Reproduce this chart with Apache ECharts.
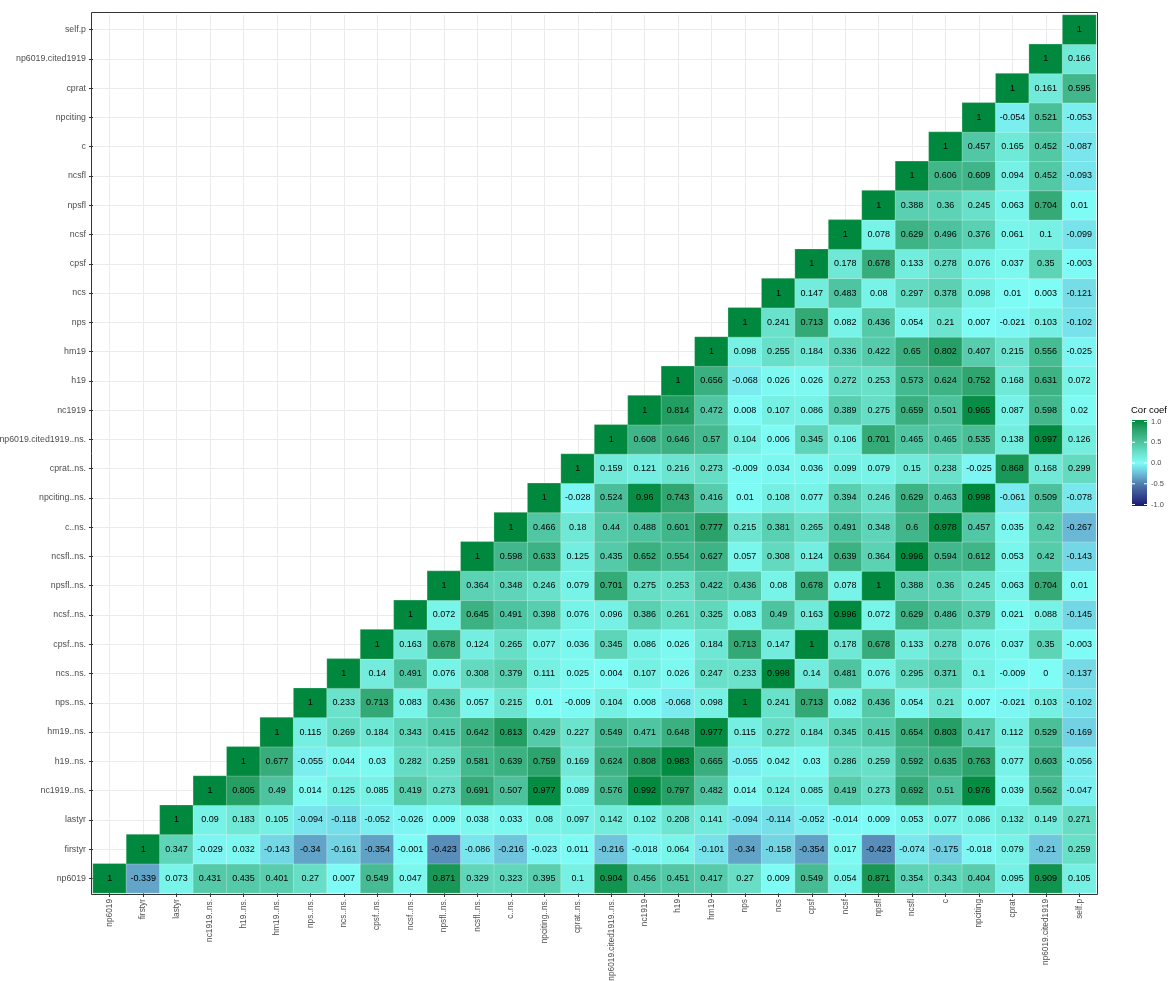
<!DOCTYPE html>
<html>
<head>
<meta charset="utf-8">
<script src="https://cdn.jsdelivr.net/npm/echarts@6/dist/echarts.min.js"></script>
<style>html,body{margin:0;padding:0;background:#fff}#c{width:1168px;height:981px}</style>
</head>
<body>
<div id="c"></div>
<script>
// Variable names (x categories left->right, y categories bottom->top)
const variables = ["np6019","firstyr","lastyr","nc1919..ns.","h19..ns.","hm19..ns.","nps..ns.","ncs..ns.","cpsf..ns.","ncsf..ns.","npsfl..ns.","ncsfl..ns.","c..ns.","npciting..ns.","cprat..ns.","np6019.cited1919..ns.","nc1919","h19","hm19","nps","ncs","cpsf","ncsf","npsfl","ncsfl","c","npciting","cprat","np6019.cited1919","self.p"];

// Upper-triangle rows: upperRows[i] = correlations of variables[i] with variables[i..29]
const upperRows = [
 [1,-0.339,0.073,0.431,0.435,0.401,0.27,0.007,0.549,0.047,0.871,0.329,0.323,0.395,0.1,0.904,0.456,0.451,0.417,0.27,0.009,0.549,0.054,0.871,0.354,0.343,0.404,0.095,0.909,0.105],
 [1,0.347,-0.029,0.032,-0.143,-0.34,-0.161,-0.354,-0.001,-0.423,-0.086,-0.216,-0.023,0.011,-0.216,-0.018,0.064,-0.101,-0.34,-0.158,-0.354,0.017,-0.423,-0.074,-0.175,-0.018,0.079,-0.21,0.259],
 [1,0.09,0.183,0.105,-0.094,-0.118,-0.052,-0.026,0.009,0.038,0.033,0.08,0.097,0.142,0.102,0.208,0.141,-0.094,-0.114,-0.052,-0.014,0.009,0.053,0.077,0.086,0.132,0.149,0.271],
 [1,0.805,0.49,0.014,0.125,0.085,0.419,0.273,0.691,0.507,0.977,0.089,0.576,0.992,0.797,0.482,0.014,0.124,0.085,0.419,0.273,0.692,0.51,0.976,0.039,0.562,-0.047],
 [1,0.677,-0.055,0.044,0.03,0.282,0.259,0.581,0.639,0.759,0.169,0.624,0.808,0.983,0.665,-0.055,0.042,0.03,0.286,0.259,0.592,0.635,0.763,0.077,0.603,-0.056],
 [1,0.115,0.269,0.184,0.343,0.415,0.642,0.813,0.429,0.227,0.549,0.471,0.648,0.977,0.115,0.272,0.184,0.345,0.415,0.654,0.803,0.417,0.112,0.529,-0.169],
 [1,0.233,0.713,0.083,0.436,0.057,0.215,0.01,-0.009,0.104,0.008,-0.068,0.098,1,0.241,0.713,0.082,0.436,0.054,0.21,0.007,-0.021,0.103,-0.102],
 [1,0.14,0.491,0.076,0.308,0.379,0.111,0.025,0.004,0.107,0.026,0.247,0.233,0.998,0.14,0.481,0.076,0.295,0.371,0.1,-0.009,0,-0.137],
 [1,0.163,0.678,0.124,0.265,0.077,0.036,0.345,0.086,0.026,0.184,0.713,0.147,1,0.178,0.678,0.133,0.278,0.076,0.037,0.35,-0.003],
 [1,0.072,0.645,0.491,0.398,0.076,0.096,0.386,0.261,0.325,0.083,0.49,0.163,0.996,0.072,0.629,0.486,0.379,0.021,0.088,-0.145],
 [1,0.364,0.348,0.246,0.079,0.701,0.275,0.253,0.422,0.436,0.08,0.678,0.078,1,0.388,0.36,0.245,0.063,0.704,0.01],
 [1,0.598,0.633,0.125,0.435,0.652,0.554,0.627,0.057,0.308,0.124,0.639,0.364,0.996,0.594,0.612,0.053,0.42,-0.143],
 [1,0.466,0.18,0.44,0.488,0.601,0.777,0.215,0.381,0.265,0.491,0.348,0.6,0.978,0.457,0.035,0.42,-0.267],
 [1,-0.028,0.524,0.96,0.743,0.416,0.01,0.108,0.077,0.394,0.246,0.629,0.463,0.998,-0.061,0.509,-0.078],
 [1,0.159,0.121,0.216,0.273,-0.009,0.034,0.036,0.099,0.079,0.15,0.238,-0.025,0.868,0.168,0.299],
 [1,0.608,0.646,0.57,0.104,0.006,0.345,0.106,0.701,0.465,0.465,0.535,0.138,0.997,0.126],
 [1,0.814,0.472,0.008,0.107,0.086,0.389,0.275,0.659,0.501,0.965,0.087,0.598,0.02],
 [1,0.656,-0.068,0.026,0.026,0.272,0.253,0.573,0.624,0.752,0.168,0.631,0.072],
 [1,0.098,0.255,0.184,0.336,0.422,0.65,0.802,0.407,0.215,0.556,-0.025],
 [1,0.241,0.713,0.082,0.436,0.054,0.21,0.007,-0.021,0.103,-0.102],
 [1,0.147,0.483,0.08,0.297,0.378,0.098,0.01,0.003,-0.121],
 [1,0.178,0.678,0.133,0.278,0.076,0.037,0.35,-0.003],
 [1,0.078,0.629,0.496,0.376,0.061,0.1,-0.099],
 [1,0.388,0.36,0.245,0.063,0.704,0.01],
 [1,0.606,0.609,0.094,0.452,-0.093],
 [1,0.457,0.165,0.452,-0.087],
 [1,-0.054,0.521,-0.053],
 [1,0.161,0.595],
 [1,0.166],
 [1]
];

// Legend
const legendTitle = "Cor coef";
const legendBreaks = [1, 0.5, 0, -0.5, -1];
const legendBreakLabels = ["1.0", "0.5", "0.0", "-0.5", "-1.0"];

// Colour ramp from -1 to 1 (evenly spaced)
const rampColors = ["#191970","#344a8e","#4f7aab","#6cbcd8","#7ffcf6","#69e0c9","#4dc29d","#2fa56f","#00893e"];

const data = [];
upperRows.forEach((row, i) => {
  row.forEach((v, k) => { data.push([i + k, i, v]); });
});

const FONT = "'Liberation Sans', Arial, sans-serif";
const chart = echarts.init(document.getElementById('c'), null, {renderer: 'canvas'});

// legend bar geometry
const barX = 1132, barY = 420, barW = 15, barH = 86;
const yOf = v => barY + 1.5 + (1 - v) / 2 * (barH - 3);
const legendGraphics = [
  {type: 'text', left: 1131, top: 405, style: {text: legendTitle, font: '9.5px ' + FONT, fill: '#000'}},
  {type: 'rect', shape: {x: barX, y: barY, width: barW, height: barH},
   style: {fill: new echarts.graphic.LinearGradient(0, 0, 0, 1,
     rampColors.slice().reverse().map((c, k) => ({offset: k / (rampColors.length - 1), color: c})))}}
];
legendBreaks.forEach((b, k) => {
  const y = yOf(b);
  legendGraphics.push({type: 'line', shape: {x1: barX, y1: y, x2: barX + 3, y2: y}, style: {stroke: '#fff', lineWidth: 1}});
  legendGraphics.push({type: 'line', shape: {x1: barX + barW - 3, y1: y, x2: barX + barW, y2: y}, style: {stroke: '#fff', lineWidth: 1}});
  legendGraphics.push({type: 'text', x: barX + barW + 4, y: y, style: {text: legendBreakLabels[k], font: '7.5px ' + FONT, fill: '#4d4d4d', verticalAlign: 'middle', textAlign: 'left'}});
});
// panel border
legendGraphics.push({type: 'rect', shape: {x: 91.5, y: 12.5, width: 1006, height: 882}, style: {fill: 'none', stroke: '#333', lineWidth: 1}, z: 100});

chart.setOption({
  animation: false,
  backgroundColor: '#fff',
  grid: {left: 93, top: 15, width: 1003, height: 878, containLabel: false, outerBoundsMode: 'none'},
  xAxis: {
    type: 'category', data: variables,
    axisLine: {show: false},
    axisTick: {show: true, alignWithLabel: true, length: 4, lineStyle: {color: '#333'}},
    axisLabel: {rotate: 90, interval: 0, margin: 6, fontSize: 8.3, fontFamily: FONT, color: '#4d4d4d'},
    splitLine: {show: true, alignWithLabel: true, lineStyle: {color: '#ebebeb', width: 1}}
  },
  yAxis: {
    type: 'category', data: variables,
    axisLine: {show: false},
    axisTick: {show: true, alignWithLabel: true, length: 4, lineStyle: {color: '#333'}},
    axisLabel: {interval: 0, margin: 7, fontSize: 8.8, fontFamily: FONT, color: '#4d4d4d'},
    splitLine: {show: true, alignWithLabel: true, lineStyle: {color: '#ebebeb', width: 1}}
  },
  visualMap: {show: false, type: 'continuous', min: -1, max: 1, dimension: 2, inRange: {color: rampColors}},
  series: [{
    type: 'heatmap', data: data,
    itemStyle: {borderColor: 'rgba(255,255,255,0.5)', borderWidth: 0.5},
    label: {show: true, formatter: p => String(p.value[2]), fontSize: 9, fontFamily: FONT, color: '#000'},
    emphasis: {disabled: true}
  }],
  graphic: legendGraphics
});
</script>
</body>
</html>
